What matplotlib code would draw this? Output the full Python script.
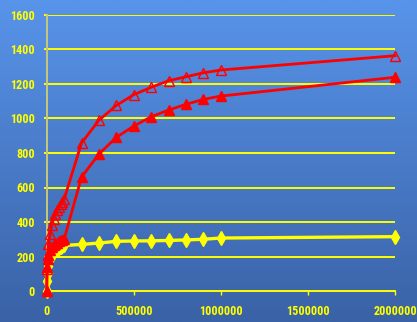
import numpy as np
import matplotlib
matplotlib.use("Agg")
import matplotlib.pyplot as plt
from matplotlib import font_manager
from matplotlib.font_manager import FontProperties
from matplotlib.textpath import TextPath

# Concentration (x) and loading values for three series
x_vals = [0, 2000, 5000, 10000, 20000, 30000, 40000, 50000, 60000, 70000,
          80000, 90000, 100000, 200000, 300000, 400000, 500000, 600000,
          700000, 800000, 900000, 1000000, 2000000]

open_tri = [0, 130, 210, 270, 330, 385, 420, 445, 468, 487,
            502, 517, 532, 858, 990, 1076, 1138, 1181,
            1219, 1242, 1265, 1281, 1364]

filled_tri = [0, 140, 185, 210, 238, 254, 265, 274, 281, 288,
              293, 297, 301, 660, 794, 891, 956, 1010,
              1049, 1082, 1111, 1130, 1239]

diamond = [0, 60, 105, 145, 188, 212, 228, 238, 246, 252,
           257, 261, 264, 270, 278, 288, 290, 291,
           293, 296, 300, 307, 315]

x_ticks = [0, 500000, 1000000, 1500000, 2000000]
y_ticks = [0, 200, 400, 600, 800, 1000, 1200, 1400, 1600]

DPI = 100


def pick_label_file():
    """Prefer a narrow bold sans face for the tick labels."""
    files = {f.fname.split("/")[-1].lower(): f.fname
             for f in font_manager.fontManager.ttflist}
    for name in ("liberationsansnarrow-bold.ttf",
                 "robotocondensed-bold.ttf",
                 "barlowcondensed-bold.ttf",
                 "asapcondensed-bold.ttf",
                 "dejavusanscondensed-bold.ttf"):
        if name in files:
            return files[name]
    return None


label_file = pick_label_file()
if label_file:
    label_font = FontProperties(fname=label_file, size=10)
else:
    label_font = FontProperties(family="Liberation Sans", weight="bold", size=10)


def ink_px(text, prop):
    ext = TextPath((0, 0), text, prop=prop).get_extents()
    return ext.width * DPI / 72, ext.height * DPI / 72


# digits about 10.3 px tall, widest label no wider than 42 px
h = ink_px("0", label_font)[1]
size = 10 * 10.3 / h
label_font.set_size(size)
w = ink_px("2000000", label_font)[0]
if w > 42:
    size *= 42 / w
label_font.set_size(size)

fig = plt.figure(figsize=(4.17, 3.22), dpi=DPI)

# vertical blue gradient background
bg = fig.add_axes([0, 0, 1, 1], zorder=-10)
top = np.array([88, 148, 234]) / 255
bot = np.array([58, 98, 166]) / 255
t = np.linspace(0, 1, 256)[:, None]
grad = (top * (1 - t) + bot * t)[:, None, :]
grad = np.repeat(grad, 2, axis=1)
bg.imshow(grad, aspect="auto", extent=[0, 1, 0, 1])
bg.axis("off")

ax = fig.add_axes([46.7 / 417, 31 / 322, (395 - 46.7) / 417, 276 / 322])
ax.patch.set_alpha(0)

yellow = "#FFFF00"
red = "#FF0000"

for yv in y_ticks[1:]:
    ax.axhline(yv, color=yellow, lw=1.4, zorder=1)

ax.plot(x_vals, diamond, color=yellow, lw=2.4, marker="d", ms=7,
        mfc=yellow, mec=yellow, clip_on=False, zorder=3)
ax.plot(x_vals, filled_tri, color=red, lw=2.0, marker="^", ms=6.5,
        mfc=red, mec=red, clip_on=False, zorder=4)
ax.plot(x_vals, open_tri, color=red, lw=2.0, marker="^", ms=6.5,
        mfc="none", mec=red, mew=1.0, clip_on=False, zorder=5)

ax.set_xlim(0, 2000000)
ax.set_ylim(0, 1600)
ax.set_xticks(x_ticks)
ax.set_xticklabels([str(v) for v in x_ticks])
ax.set_yticks(y_ticks)
ax.set_yticklabels([str(v) for v in y_ticks])

for s in ("top", "right"):
    ax.spines[s].set_visible(False)
ax.spines["left"].set_color("#C8C878")
ax.spines["left"].set_linewidth(1.4)
ax.spines["bottom"].set_color(yellow)
ax.spines["bottom"].set_linewidth(1.4)

ax.tick_params(axis="x", colors=yellow, length=3, width=1, pad=7)
ax.tick_params(axis="y", colors=yellow, length=2.5, width=1.4, pad=6)
for lab in ax.get_xticklabels() + ax.get_yticklabels():
    lab.set_fontproperties(label_font)
    lab.set_color(yellow)

fig.savefig("out.png", dpi=DPI)
